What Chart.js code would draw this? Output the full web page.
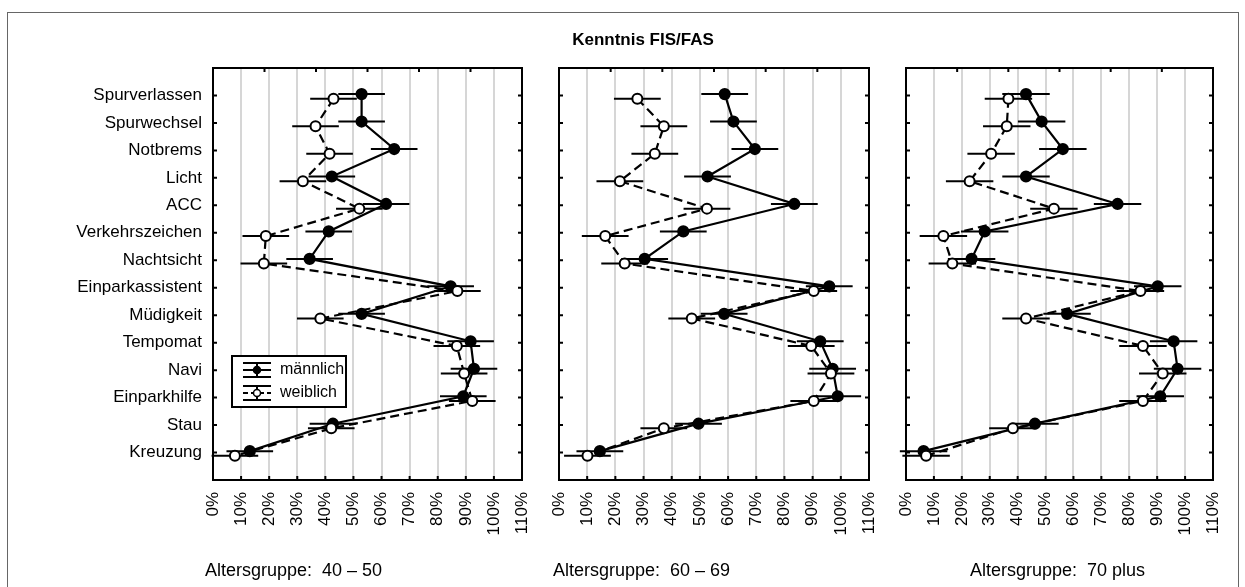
<!DOCTYPE html>
<html>
<head>
<meta charset="utf-8">
<script src="https://cdn.jsdelivr.net/npm/chart.js@4.4.1/dist/chart.umd.min.js"></script>
<style>
  body { margin: 0; background: #fff; }
  #wrap { position: relative; width: 1245px; height: 587px; overflow: hidden; background: #fff;
          font-family: 'Liberation Sans', Arial, sans-serif; }
  #frame { position: absolute; left: 7px; top: 12px; width: 1230px; height: 640px; border: 1px solid #666; }
  canvas { position: absolute; left: 0; top: 0; }
  .txt { position: absolute; white-space: pre; color: #000; line-height: 20px; }
</style>
</head>
<body>
<div id="wrap">
  <div id="frame"></div>
  <canvas id="p1" width="1245" height="587"></canvas>
  <canvas id="p2" width="1245" height="587"></canvas>
  <canvas id="p3" width="1245" height="587"></canvas>
  <div class="txt" style="left:543px;top:30px;width:200px;text-align:center;font-weight:bold;font-size:17px;">Kenntnis FIS/FAS</div>
  <div class="txt" style="left:205px;top:560px;font-size:18px;">Altersgruppe:  40 – 50</div>
  <div class="txt" style="left:553px;top:560px;font-size:18px;">Altersgruppe:  60 – 69</div>
  <div class="txt" style="left:970px;top:560px;font-size:18px;">Altersgruppe:  70 plus</div>
</div>
<script>
// categories from top to bottom
const categories = ['Spurverlassen', 'Spurwechsel', 'Notbrems', 'Licht', 'ACC', 'Verkehrszeichen',
  'Nachtsicht', 'Einparkassistent', 'Müdigkeit', 'Tempomat', 'Navi', 'Einparkhilfe', 'Stau', 'Kreuzung'];
const percentTicks = [0, 10, 20, 30, 40, 50, 60, 70, 80, 90, 100, 110];

// Altersgruppe 40 - 50
const maennlich4050 = [52.9, 52.9, 64.5, 42.3, 61.6, 41.2, 34.4, 84.6, 52.9, 91.7, 92.9, 89.1, 42.7, 13.1];
const weiblich4050  = [42.9, 36.5, 41.5, 32.0, 52.1, 18.8, 18.1, 87.0, 38.2, 86.8, 89.4, 92.3, 42.1, 7.8];
// Altersgruppe 60 - 69
const maennlich6069 = [58.8, 61.9, 69.5, 52.7, 83.5, 44.1, 30.4, 95.9, 58.6, 92.7, 97.1, 98.9, 49.5, 14.5];
const weiblich6069  = [27.8, 37.2, 34.0, 21.6, 52.5, 16.4, 23.3, 90.4, 47.1, 89.5, 96.5, 90.4, 37.2, 10.1];
// Altersgruppe 70 plus
const maennlich70 = [43.0, 48.6, 56.2, 43.0, 75.8, 28.2, 23.5, 90.2, 57.7, 95.9, 97.3, 91.1, 46.2, 6.3];
const weiblich70  = [36.7, 36.1, 30.5, 22.8, 53.0, 13.4, 16.6, 84.0, 43.0, 84.9, 92.0, 84.9, 38.3, 7.2];

// half width of the error bars (percentage points)
const err4050 = 8.3;
const err6069 = 8.3;
const err70 = 8.5;

Chart.defaults.font.family = "'Liberation Sans', Arial, sans-serif";
Chart.defaults.color = '#000';

const nCat = categories.length;

function toPoints(vals, shift) {
  return vals.map((v, i) => ({ x: v, y: nCat - 1 - i + shift }));
}

function drawLegend(ctx, a) {
  const bx = a.left + 19, by = a.top + 288;
  ctx.fillStyle = '#fff';
  ctx.fillRect(bx, by, 114, 51);
  ctx.lineWidth = 2;
  ctx.strokeStyle = '#000';
  ctx.strokeRect(bx, by, 114, 51);
  const rows = [['männlich', false], ['weiblich', true]];
  rows.forEach(([label, open], k) => {
    const cy = by + 14 + k * 23;
    const x0 = bx + 11, x1 = bx + 39, cx = (x0 + x1) / 2;
    ctx.setLineDash([]);
    ctx.beginPath();
    ctx.moveTo(x0, cy - 7); ctx.lineTo(x1, cy - 7);
    ctx.moveTo(x0, cy + 7); ctx.lineTo(x1, cy + 7);
    ctx.moveTo(cx, cy - 7); ctx.lineTo(cx, cy + 7);
    ctx.stroke();
    if (open) ctx.setLineDash([5, 3]);
    ctx.beginPath();
    ctx.moveTo(x0, cy); ctx.lineTo(x1, cy);
    ctx.stroke();
    ctx.setLineDash([]);
    ctx.beginPath();
    ctx.arc(cx, cy, 3.5, 0, Math.PI * 2);
    ctx.fillStyle = open ? '#fff' : '#000';
    ctx.fill();
    ctx.lineWidth = 1.5;
    ctx.stroke();
    ctx.lineWidth = 2;
    ctx.fillStyle = '#000';
    ctx.font = "16px 'Liberation Sans', Arial, sans-serif";
    ctx.textBaseline = 'middle';
    ctx.textAlign = 'left';
    ctx.fillText(label, bx + 48, cy);
  });
}

const decor = {
  id: 'decor',
  beforeDatasetsDraw(chart, args, opts) {
    const ctx = chart.ctx, xs = chart.scales.x;
    ctx.save();
    ctx.strokeStyle = '#000';
    ctx.lineWidth = 2;
    chart.data.datasets.forEach((ds, di) => {
      const meta = chart.getDatasetMeta(di);
      ds.data.forEach((p, j) => {
        const y = meta.data[j].y;
        ctx.beginPath();
        ctx.moveTo(xs.getPixelForValue(p.x - opts.err), y);
        ctx.lineTo(xs.getPixelForValue(p.x + opts.err), y);
        ctx.stroke();
      });
    });
    ctx.restore();
  },
  afterDraw(chart, args, opts) {
    const ctx = chart.ctx, a = chart.chartArea, xs = chart.scales.x, ys = chart.scales.y;
    ctx.save();
    ctx.strokeStyle = '#000';
    ctx.lineWidth = 2;
    ctx.strokeRect(a.left, a.top, a.right - a.left, a.bottom - a.top);
    ctx.beginPath();
    categories.forEach((c, i) => {
      const y = ys.getPixelForValue(nCat - 1 - i);
      ctx.moveTo(a.left, y); ctx.lineTo(a.left + 4, y);
      ctx.moveTo(a.right, y); ctx.lineTo(a.right - 4, y);
    });
    percentTicks.forEach(v => {
      const x = xs.getPixelForValue(v);
      ctx.moveTo(x, a.bottom); ctx.lineTo(x, a.bottom - 4);
    });
    for (let k = 1; k < 6; k++) {
      const x = a.left + (a.right - a.left) * k / 6;
      ctx.moveTo(x, a.top); ctx.lineTo(x, a.top + 4);
    }
    ctx.stroke();
    if (opts.legend) drawLegend(ctx, a);
    ctx.restore();
  }
};

function makePanel(id, mVals, wVals, err, left, right, withLabels, withLegend) {
  return new Chart(document.getElementById(id), {
    type: 'scatter',
    data: {
      datasets: [
        {
          label: 'männlich',
          data: toPoints(mVals, 0.05),
          showLine: true,
          borderColor: '#000',
          borderWidth: 2.2,
          pointRadius: 5,
          pointBackgroundColor: '#000',
          pointBorderColor: '#000',
          order: 1
        },
        {
          label: 'weiblich',
          data: toPoints(wVals, -0.12),
          showLine: true,
          borderColor: '#000',
          borderWidth: 2.2,
          borderDash: [9, 5],
          pointRadius: 5,
          pointBorderWidth: 2,
          pointBackgroundColor: '#fff',
          pointBorderColor: '#000',
          order: 0
        }
      ]
    },
    options: {
      responsive: false,
      animation: false,
      events: [],
      layout: { padding: { left: 0, right: 1245 - right, top: 68, bottom: 0 } },
      plugins: {
        legend: { display: false },
        tooltip: { enabled: false },
        decor: { err: err, legend: withLegend }
      },
      scales: {
        x: {
          type: 'linear',
          min: 0,
          max: 110,
          afterBuildTicks: s => { s.ticks = percentTicks.map(v => ({ value: v })); },
          ticks: {
            autoSkip: false,
            minRotation: 90,
            maxRotation: 90,
            padding: 12,
            font: { size: 17 },
            callback: v => v + '%'
          },
          grid: {
            drawTicks: false,
            lineWidth: 2,
            color: c => (c.tick && (c.tick.value === 0 || c.tick.value === 110)) ? 'rgba(0,0,0,0)' : '#d6d6d6'
          },
          border: { display: false },
          afterFit: s => { s.height = 107; s.paddingLeft = 0; s.paddingRight = 0; }
        },
        y: {
          type: 'linear',
          min: -1,
          max: nCat,
          afterBuildTicks: s => { s.ticks = categories.map((c, i) => ({ value: nCat - 1 - i })); },
          ticks: {
            autoSkip: false,
            padding: 11,
            font: { size: 17 },
            callback: v => withLabels ? categories[nCat - 1 - v] : ''
          },
          grid: { display: false, drawTicks: false },
          border: { display: false },
          afterFit: s => { s.width = left; s.paddingTop = 0; s.paddingBottom = 0; }
        }
      }
    },
    plugins: [decor]
  });
}

makePanel('p1', maennlich4050, weiblich4050, err4050, 213, 522, true, true);
makePanel('p2', maennlich6069, weiblich6069, err6069, 559, 869, false, false);
makePanel('p3', maennlich70, weiblich70, err70, 906, 1213, false, false);
</script>
</body>
</html>
